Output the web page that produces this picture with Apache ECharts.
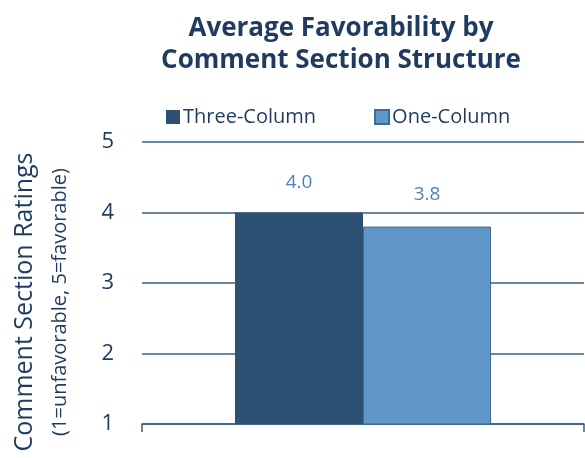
<!DOCTYPE html>
<html><head><meta charset="utf-8">
<script src="https://cdn.jsdelivr.net/npm/echarts@6/dist/echarts.min.js"></script>
<style>html,body{margin:0;padding:0;background:#fff}#c{width:585px;height:458px}</style>
</head><body><div id="c"></div>
<script>
var categories = [''];
var seriesNames = ['Three-Column', 'One-Column'];
var threeColumn = [4.0];
var oneColumn = [3.8];
var yTicks = [1, 2, 3, 4, 5];
var yTitle = 'Comment Section Ratings';
var ySubtitle = '(1=unfavorable, 5=favorable)';

var chart = echarts.init(document.getElementById('c'));
var txt = '#1F3B5F';
chart.setOption({
  animation: false,
  title: {
    text: 'Average Favorability by\nComment Section Structure',
    left: 336, textAlign: 'center', top: 8,
    textStyle: { fontFamily: 'Open Sans', fontWeight: 'bold', fontSize: 26, color: txt, lineHeight: 32 }
  },
  legend: {
    top: 102, left: 161, itemGap: 58, itemWidth: 14, itemHeight: 14,
    icon: 'rect',
    textStyle: { fontFamily: 'Open Sans', fontSize: 20, color: txt, padding: [0, 0, 0, -2] },
    data: seriesNames
  },
  grid: { left: 142, right: 1, top: 142, bottom: 34 },
  xAxis: {
    type: 'category', data: categories,
    axisLine: { lineStyle: { color: '#3A5F82', width: 1.5 } },
    axisTick: { show: true, length: 8, lineStyle: { color: '#3A5F82', width: 1.5 } },
    axisLabel: { show: false }
  },
  yAxis: {
    type: 'value', min: yTicks[0], max: yTicks[yTicks.length - 1], interval: 1,
    axisLine: { show: false }, axisTick: { show: false },
    splitLine: { lineStyle: { color: '#3A5F82', width: 1.5 } },
    axisLabel: { fontFamily: 'Open Sans', fontSize: 22, color: txt, margin: 28 }
  },
  graphic: [
    { type: 'text', rotation: Math.PI / 2, x: 25, y: 302,
      style: { text: yTitle, fontFamily: 'Open Sans', fontSize: 25, fill: txt, align: 'center', verticalAlign: 'middle' } },
    { type: 'text', rotation: Math.PI / 2, x: 60, y: 302,
      style: { text: ySubtitle, fontFamily: 'Open Sans', fontSize: 20, fill: txt, align: 'center', verticalAlign: 'middle' } }
  ],
  series: [
    { name: seriesNames[0], type: 'bar', data: threeColumn, barWidth: 128, barGap: '0%',
      itemStyle: { color: '#2D5172' },
      label: { show: true, position: 'top', distance: 20, formatter: function(p){return p.value.toFixed(1);},
        fontFamily: 'Open Sans', fontSize: 19, color: '#4F81BD' } },
    { name: seriesNames[1], type: 'bar', data: oneColumn, barWidth: 128,
      itemStyle: { color: '#6096C8', borderColor: '#3D6A96', borderWidth: 1 },
      label: { show: true, position: 'top', distance: 23, formatter: function(p){return p.value.toFixed(1);},
        fontFamily: 'Open Sans', fontSize: 19, color: '#4F81BD' } }
  ]
});
</script></body></html>
